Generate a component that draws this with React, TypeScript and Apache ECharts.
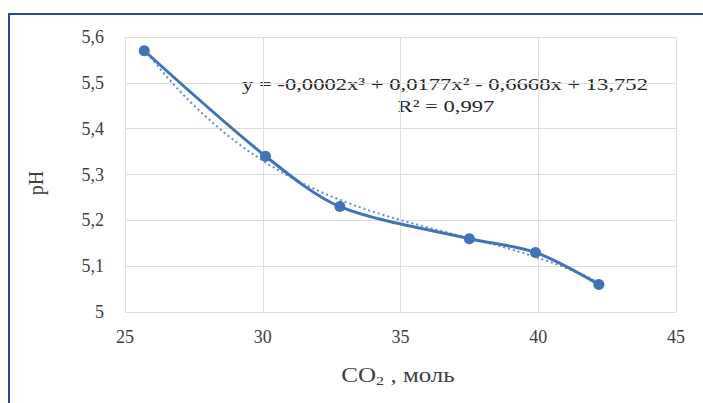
import React, { useEffect, useRef } from "react";
import * as echarts from "echarts";

const co2Values = [25.7, 30.1, 32.8, 37.5, 39.9, 42.2];
const phValues = [5.57, 5.34, 5.23, 5.16, 5.13, 5.06];
const xTicks = [25, 30, 35, 40, 45];
const yTicks = [5, 5.1, 5.2, 5.3, 5.4, 5.5, 5.6];
const equationText = "y = -0,0002x³ + 0,0177x² - 0,6668x + 13,752";
const r2Text = "R² = 0,997";

const SERIF = "Liberation Serif";

function cubicFit(xs: number[], ys: number[]) {
  const n = 4;
  const m = xs.length;
  const xm = xs.reduce((a, b) => a + b, 0) / m;
  const A: number[][] = [];
  for (let i = 0; i < n; i++) {
    A.push(new Array(n + 1).fill(0));
    for (let j = 0; j < n; j++) {
      let s = 0;
      for (let k = 0; k < m; k++) s += Math.pow(xs[k] - xm, i + j);
      A[i][j] = s;
    }
    let t = 0;
    for (let k = 0; k < m; k++) t += ys[k] * Math.pow(xs[k] - xm, i);
    A[i][n] = t;
  }
  for (let c = 0; c < n; c++) {
    let p = c;
    for (let r = c + 1; r < n; r++) if (Math.abs(A[r][c]) > Math.abs(A[p][c])) p = r;
    [A[c], A[p]] = [A[p], A[c]];
    for (let r = 0; r < n; r++) {
      if (r === c) continue;
      const f = A[r][c] / A[c][c];
      for (let k = c; k <= n; k++) A[r][k] -= f * A[c][k];
    }
  }
  const coef = A.map((row, i) => row[n] / row[i]);
  return (x: number) => coef.reduce((s, c, i) => s + c * Math.pow(x - xm, i), 0);
}

export default function App() {
  const ref = useRef<HTMLDivElement>(null);
  useEffect(() => {
    if (!ref.current) return;
    const chart = echarts.init(ref.current, null, { renderer: "svg" });
    const f = cubicFit(co2Values, phValues);
    const x0 = Math.min(...co2Values);
    const x1 = Math.max(...co2Values);
    const steps = 80;
    const trend: number[][] = [];
    for (let i = 0; i <= steps; i++) {
      const x = x0 + ((x1 - x0) * i) / steps;
      trend.push([x, f(x)]);
    }
    const fmt = (v: number) => String(Math.round(v * 10) / 10).replace(".", ",");
    const color = "#4272b8";
    chart.setOption({
      animation: false,
      backgroundColor: "#ffffff",
      textStyle: { fontFamily: SERIF },
      grid: { left: 125, right: 27, top: 37, bottom: 91 },
      xAxis: {
        type: "value",
        min: xTicks[0],
        max: xTicks[xTicks.length - 1],
        interval: 5,
        axisLine: { show: false },
        axisTick: { show: false },
        splitLine: { show: true, lineStyle: { color: "#dedede", width: 1 } },
        axisLabel: {
          color: "#404040",
          fontFamily: SERIF,
          fontSize: 18,
          margin: 16,
        },
      },
      yAxis: {
        type: "value",
        min: yTicks[0],
        max: yTicks[yTicks.length - 1],
        interval: 0.1,
        axisLine: { show: false },
        axisTick: { show: false },
        splitLine: { show: true, lineStyle: { color: "#dedede", width: 1 } },
        axisLabel: {
          color: "#404040",
          fontFamily: SERIF,
          fontSize: 18,
          margin: 21,
          formatter: fmt,
        },
      },
      series: [
        {
          type: "line",
          data: trend,
          showSymbol: false,
          symbol: "none",
          lineStyle: { color: "#5b8fd6", width: 2, type: [2, 3] },
          z: 1,
        },
        {
          type: "line",
          data: co2Values.map((x, i) => [x, phValues[i]]),
          smooth: 0.3,
          symbol: "circle",
          symbolSize: 11,
          itemStyle: { color },
          lineStyle: { color, width: 3 },
          z: 2,
        },
      ],
      graphic: [
        {
          type: "rect",
          shape: { x: 9, y: 14, width: 720, height: 420 },
          style: { fill: "none", stroke: "#2b4a8b", lineWidth: 2 },
          silent: true,
        },
        {
          type: "text",
          x: 445,
          y: 84,
          scaleX: 1.33,
          style: {
            text: equationText,
            fontFamily: SERIF,
            fontSize: 17,
            fill: "#262626",
            align: "center",
            verticalAlign: "middle",
          },
        },
        {
          type: "text",
          x: 446,
          y: 106,
          scaleX: 1.33,
          style: {
            text: r2Text,
            fontFamily: SERIF,
            fontSize: 17,
            fill: "#262626",
            align: "center",
            verticalAlign: "middle",
          },
        },
        {
          type: "text",
          x: 36,
          y: 183,
          rotation: Math.PI / 2,
          style: {
            text: "pH",
            fontFamily: SERIF,
            fontSize: 20,
            fill: "#404040",
            align: "center",
            verticalAlign: "middle",
          },
        },
        {
          type: "text",
          x: 398,
          y: 375,
          scaleX: 1.25,
          style: {
            text: "CO{sub|2} , моль",
            fontFamily: SERIF,
            fontSize: 20,
            fill: "#404040",
            align: "center",
            verticalAlign: "middle",
            rich: {
              sub: {
                fontFamily: SERIF,
                fontSize: 13,
                fill: "#404040",
                padding: [11, 0, 0, 0],
              },
            },
          },
        },
      ],
    });
    return () => chart.dispose();
  }, []);
  return <div ref={ref} style={{ width: 703, height: 403, position: "absolute", left: 0, top: 0 }} />;
}
